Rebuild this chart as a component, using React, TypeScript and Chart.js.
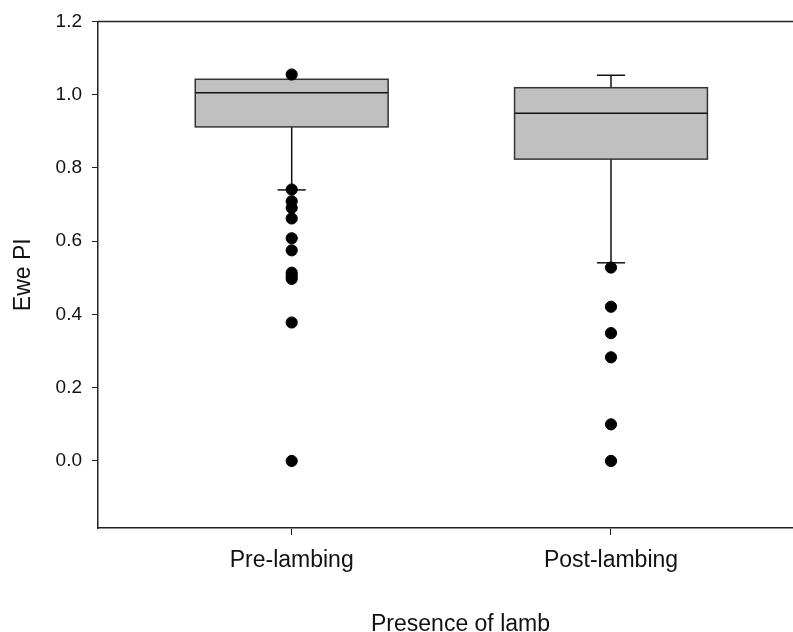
import { useEffect, useRef } from 'react';
import { Chart, registerables } from 'chart.js';

Chart.register(...registerables);

const categories = ['Pre-lambing', 'Post-lambing'];
const q1 = [0.912, 0.824];
const median = [1.005, 0.949];
const q3 = [1.042, 1.019];
const whiskerLow = [0.74, 0.541];
const whiskerHigh = [1.042, 1.053];
const outliersPre = [1.055, 0.741, 0.709, 0.691, 0.662, 0.608, 0.575, 0.514, 0.505, 0.497, 0.378, 0.0];
const outliersPost = [0.528, 0.421, 0.349, 0.283, 0.1, 0.0];
const yTicks = [0, 0.2, 0.4, 0.6, 0.8, 1.0, 1.2];
const xTitle = 'Presence of lamb';
const yTitle = 'Ewe PI';

const FONT = '"Liberation Sans", Arial, sans-serif';
const BOX_HALF = 0.302;
const CAP_HALF = 0.044;

export default function App() {
  const ref = useRef<HTMLCanvasElement>(null);

  useEffect(() => {
    if (!ref.current) return;

    const boxPlugin = {
      id: 'boxes',
      beforeDatasetsDraw(chart: any) {
        const { ctx, chartArea, scales } = chart;
        const x = scales.x;
        const y = scales.y;
        ctx.save();
        ctx.lineCap = 'butt';
        ctx.strokeStyle = '#222';
        ctx.lineWidth = 1.5;
        ctx.beginPath();
        ctx.moveTo(chartArea.left, chartArea.top);
        ctx.lineTo(chartArea.right, chartArea.top);
        ctx.stroke();

        const line = (x1: number, y1: number, x2: number, y2: number) => {
          ctx.beginPath();
          ctx.moveTo(x1, y1);
          ctx.lineTo(x2, y2);
          ctx.stroke();
        };

        categories.forEach((_, i) => {
          const c = i + 1;
          const xc = x.getPixelForValue(c);
          const xl = x.getPixelForValue(c - BOX_HALF);
          const xr = x.getPixelForValue(c + BOX_HALF);
          const cl = x.getPixelForValue(c - CAP_HALF);
          const cr = x.getPixelForValue(c + CAP_HALF);
          const yq1 = y.getPixelForValue(q1[i]);
          const yq3 = y.getPixelForValue(q3[i]);
          const ym = y.getPixelForValue(median[i]);
          const ywl = y.getPixelForValue(whiskerLow[i]);
          const ywh = y.getPixelForValue(whiskerHigh[i]);

          ctx.strokeStyle = '#111';
          ctx.lineWidth = 1.5;
          if (whiskerLow[i] < q1[i]) {
            line(xc, yq1, xc, ywl);
            line(cl, ywl, cr, ywl);
          }
          if (whiskerHigh[i] > q3[i]) {
            line(xc, yq3, xc, ywh);
            line(cl, ywh, cr, ywh);
          }
          ctx.fillStyle = '#c0c0c0';
          ctx.fillRect(xl, yq3, xr - xl, yq1 - yq3);
          ctx.strokeStyle = '#333';
          ctx.lineWidth = 1.5;
          ctx.strokeRect(xl, yq3, xr - xl, yq1 - yq3);
          ctx.strokeStyle = '#111';
          line(xl, ym, xr, ym);
        });
        ctx.restore();
      },
      afterDraw(chart: any) {
        const { ctx, chartArea } = chart;
        ctx.save();
        ctx.fillStyle = '#111';
        ctx.font = `23px ${FONT}`;
        ctx.textAlign = 'center';
        ctx.textBaseline = 'alphabetic';
        ctx.fillText(xTitle, (chartArea.left + chartArea.right) / 2 + 15, 631);
        ctx.restore();
      },
    };

    const points = [
      ...outliersPre.map((v) => ({ x: 1, y: v })),
      ...outliersPost.map((v) => ({ x: 2, y: v })),
    ];

    const chart = new Chart(ref.current, {
      type: 'scatter',
      data: {
        datasets: [
          {
            data: points,
            backgroundColor: '#000',
            borderColor: '#000',
            borderWidth: 1,
            pointRadius: 5.6,
            pointHoverRadius: 5.6,
            clip: false,
          },
        ],
      },
      options: {
        responsive: false,
        animation: false,
        devicePixelRatio: 1,
        layout: { autoPadding: false, padding: { top: 19, right: 0, bottom: 0, left: 0 } },
        plugins: {
          legend: { display: false },
          tooltip: { enabled: false },
        },
        scales: {
          x: {
            type: 'linear',
            min: 0.3934,
            max: 2.57,
            afterFit: (s: any) => {
              s.height = 104;
            },
            afterBuildTicks: (s: any) => {
              s.ticks = categories.map((_, i) => ({ value: i + 1 }));
            },
            ticks: {
              autoSkip: false,
              maxRotation: 0,
              color: '#111',
              padding: 12,
              font: { family: FONT, size: 23 },
              callback: (v: any) => categories[Number(v) - 1] ?? '',
            },
            grid: {
              drawOnChartArea: false,
              drawTicks: true,
              tickLength: 7,
              color: '#222',
              lineWidth: 1,
            },
            border: { display: true, color: '#222', width: 1.5 },
            title: { display: false },
          },
          y: {
            type: 'linear',
            min: -0.183,
            max: 1.2,
            afterFit: (s: any) => {
              s.width = 98;
            },
            afterBuildTicks: (s: any) => {
              s.ticks = yTicks.map((v) => ({ value: v }));
            },
            ticks: {
              color: '#111',
              padding: 10,
              font: { family: FONT, size: 19 },
              callback: (v: any) => Number(v).toFixed(1),
            },
            grid: {
              drawOnChartArea: false,
              drawTicks: true,
              tickLength: 6,
              color: '#222',
              lineWidth: 1,
            },
            border: { display: true, color: '#222', width: 1.5 },
            title: {
              display: true,
              text: yTitle,
              color: '#111',
              font: { family: FONT, size: 23, lineHeight: 1.2 },
              padding: { top: 10, bottom: 0 },
            },
          },
        },
      },
      plugins: [boxPlugin],
    });

    return () => chart.destroy();
  }, []);

  return (
    <div style={{ position: 'absolute', left: 0, top: 0, width: 793, height: 632, background: '#fff' }}>
      <canvas ref={ref} width={793} height={632} style={{ display: 'block' }} />
    </div>
  );
}
